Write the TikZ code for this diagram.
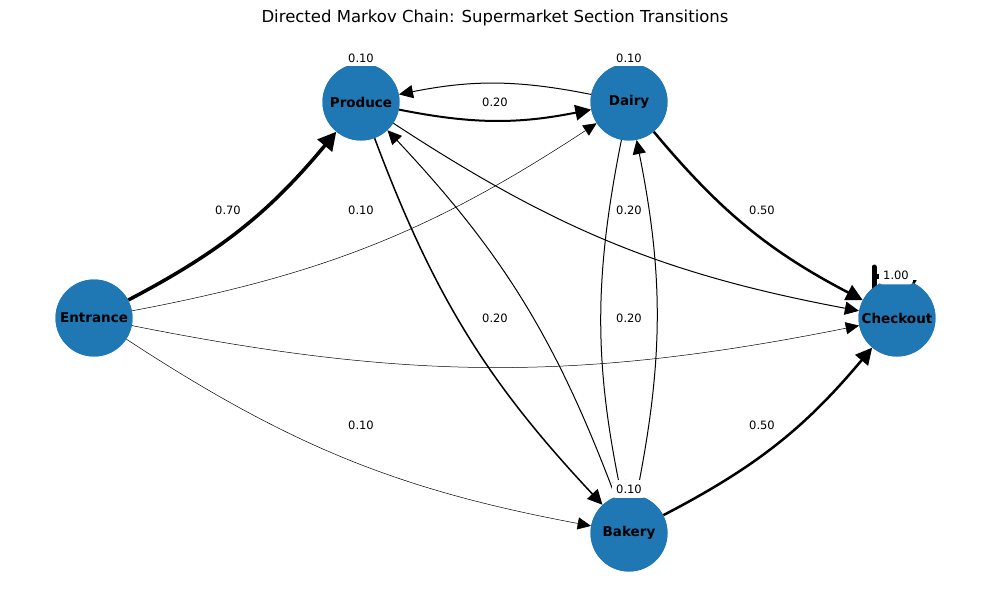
\documentclass[tikz,border=0pt]{standalone}
\usepackage{fontspec}
\setmainfont{DejaVu Sans}
\usetikzlibrary{arrows.meta}
\definecolor{nodeblue}{HTML}{1F77B4}
\tikzset{
  state/.style={circle, fill=nodeblue, draw=none, minimum size=77pt, inner sep=0pt,
    font=\fontsize{13.5}{14}\selectfont\bfseries},
  edge/.style={draw=black, line width=#1, bend right=11.3,
    -{Triangle[length=12.5pt 1.6, width=11pt 2.2]}},
  elabel/.style={fill=white, rounded corners=3pt, inner xsep=4pt, inner ysep=3.5pt,
    font=\fontsize{11.5}{12}\selectfont},
}
\begin{document}
\begin{tikzpicture}[x=1pt,y=-1pt]
\useasboundingbox (0,0) rectangle (989,590);
\node[font=\fontsize{16.5}{18}\selectfont] (title) at (495,18) {Directed Markov Chain: Supermarket Section Transitions};
% node placeholders (for geometry)
\node[state] (en) at (94,318) {};
\node[state] (pr) at (361,102) {};
\node[state] (da) at (629,102) {};
\node[state] (ck) at (897,318) {};
\node[state] (bk) at (629,533) {};
% edges
\draw[edge=3.5pt] (en) to (pr);
\draw[edge=0.5pt] (en) to (da);
\draw[edge=0.5pt] (en) to (ck);
\draw[edge=0.5pt] (en) to (bk);
\draw[edge=2pt] (pr) to (da);
\draw[edge=1.5pt] (pr) to (bk);
\draw[edge=1pt] (pr) to (ck);
\draw[edge=1pt] (da) to (pr);
\draw[edge=1pt] (da) to (bk);
\draw[edge=2.5pt] (da) to (ck);
\draw[edge=1pt] (bk) to (pr);
\draw[edge=1pt] (bk) to (da);
\draw[edge=2.5pt] (bk) to (ck);
% self loop on Checkout
\coordinate (l1) at (874,300);
\coordinate (l2) at (874,267);
\coordinate (l3) at (874,276);
\coordinate (l4) at (905,276);
\coordinate (l5) at (905,300);
\draw[line width=5pt, line cap=round] (l1) -- (l2);
\draw[line width=5pt, -{Triangle[length=20pt, width=22pt]}] (l3) -- (l4) -- (l5);
% nodes on top
\node[state] at (en) {Entrance};
\node[state] at (pr) {Produce};
\node[state] at (da) {Dairy};
\node[state] at (ck) {Checkout};
\node[state] at (bk) {Bakery};
% labels
\node[elabel] (q1) at (361,58) {0.10};
\node[elabel] (q2) at (629,58) {0.10};
\node[elabel, inner ysep=4.5pt] (q3) at (629,489) {0.10};
\node[elabel, inner ysep=5pt] (q4) at (896,275) {1.00};
\node[elabel] (q5) at (495,102) {0.20};
\node[elabel] (q6) at (228,210) {0.70};
\node[elabel] (q7) at (361,210) {0.10};
\node[elabel] (q8) at (629,210) {0.20};
\node[elabel] (q9) at (762,210) {0.50};
\node[elabel] (q10) at (495,318) {0.20};
\node[elabel] (q11) at (629,318) {0.20};
\node[elabel] (q12) at (361,425) {0.10};
\node[elabel] (q13) at (762,425) {0.50};
\end{tikzpicture}
\end{document}
